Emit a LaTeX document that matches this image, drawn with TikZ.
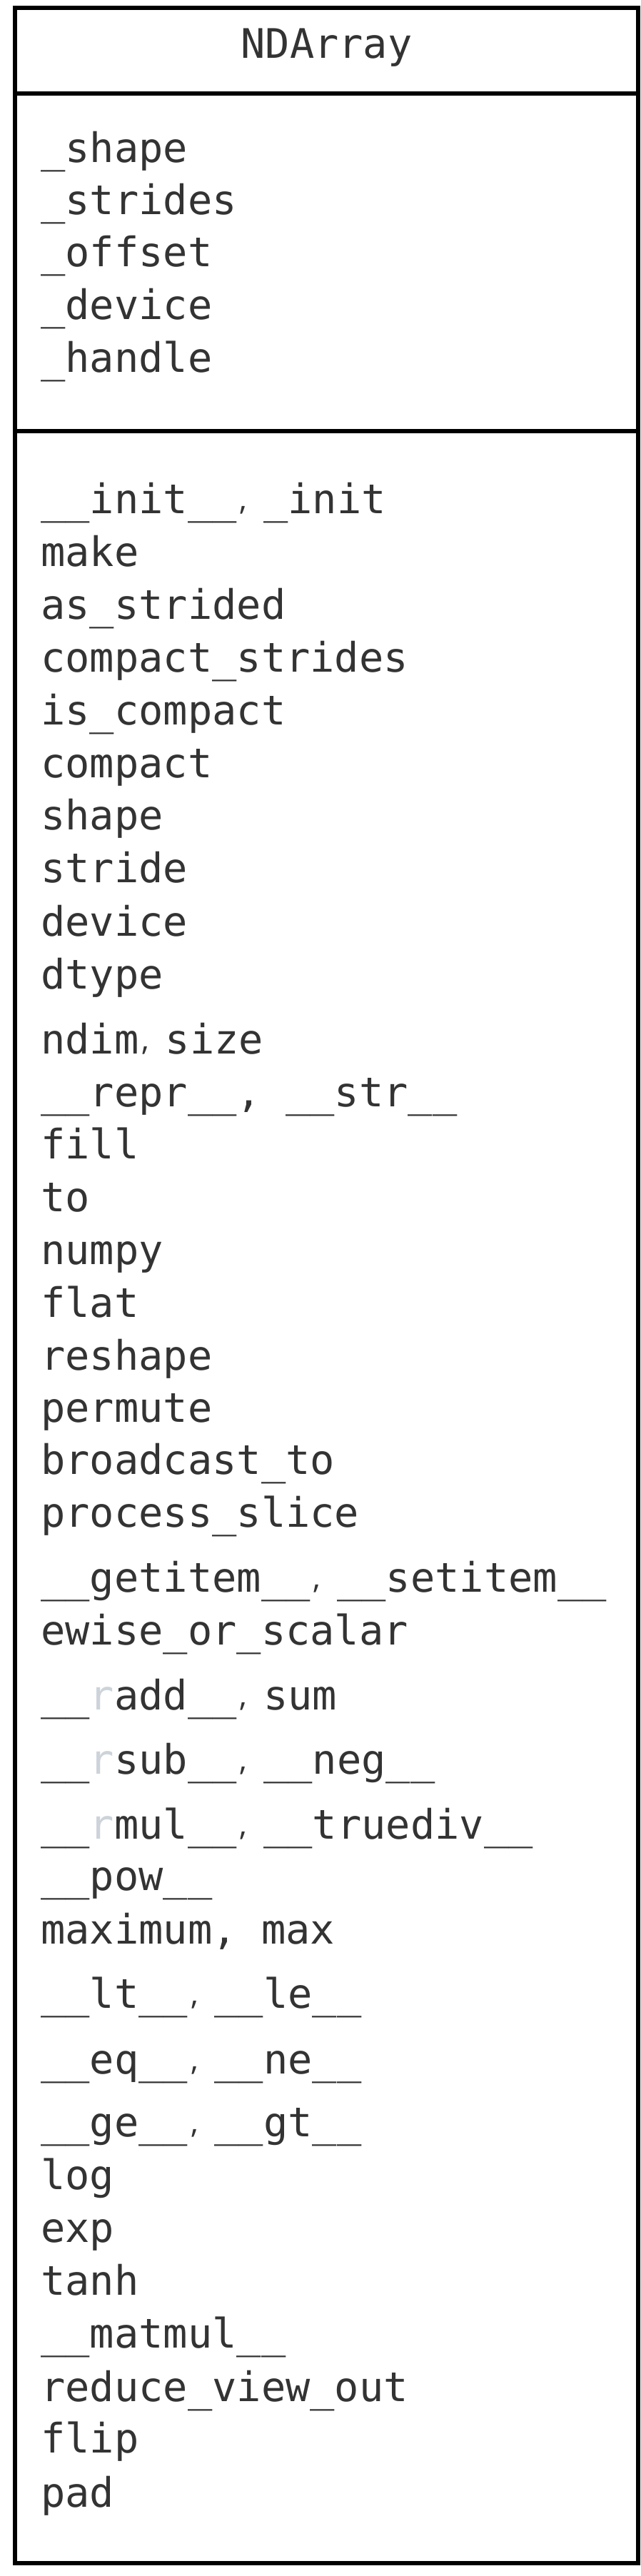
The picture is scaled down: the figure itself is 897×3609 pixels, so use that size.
\documentclass[tikz,border=0pt]{standalone}
\usepackage{fontspec}
\newfontfamily\codefont{DejaVu Sans Mono}
\newfontfamily\commafont{Open Sans}
\definecolor{txt}{HTML}{333333}
\definecolor{faint}{HTML}{CDD3DA}
\newcommand{\smallcomma}{\makebox[37.5pt][l]{\hspace{4pt}\raisebox{5pt}{\commafont\fontsize{44}{44}\selectfont,}}}
\newcommand{\fr}{\textcolor{faint}{r}}
\begin{document}
\begin{tikzpicture}[x=1pt,y=-1pt,
  frame/.style={draw=black, line width=5.5pt},
  lbl/.style={anchor=base west, inner sep=0pt, text=txt, font=\codefont\fontsize{57}{66}\selectfont},
  ttl/.style={anchor=base, inner sep=0pt, text=txt, font=\codefont\fontsize{57}{66}\selectfont}]
\useasboundingbox (0,0) rectangle (897,3609);
\fill[white] (0,0) rectangle (897,3609);
\draw[frame] (21,11) rectangle (894,3591);
\draw[frame] (21,131) -- (894,131);
\draw[frame] (21,604) -- (894,604);
\node[ttl] (title) at (457.5,81.5) {NDArray};
\foreach \y/\t [count=\i] in {
  227/{\_shape}, 300.5/{\_strides}, 373.5/{\_offset}, 447/{\_device}, 521/{\_handle}}
  {\node[lbl] (a\i) at (57,\y) {\t};}
\foreach \y/\t [count=\i] in {
  719.5/{\_\_init\_\_\smallcomma\_init},
  793/{make},
  867/{as\_strided},
  941/{compact\_strides},
  1015/{is\_compact},
  1089/{compact},
  1162/{shape},
  1236/{stride},
  1311/{device},
  1385/{dtype},
  1476/{ndim\smallcomma size},
  1550/{\_\_repr\_\_, \_\_str\_\_},
  1623/{fill},
  1697/{to},
  1771.5/{numpy},
  1845/{flat},
  1919/{reshape},
  1992/{permute},
  2065/{broadcast\_to},
  2139/{process\_slice},
  2230/{\_\_getitem\_\_\smallcomma\_\_setitem\_\_},
  2304/{ewise\_or\_scalar},
  2395/{\_\_\fr add\_\_\smallcomma sum},
  2485/{\_\_\fr sub\_\_\smallcomma\_\_neg\_\_},
  2576/{\_\_\fr mul\_\_\smallcomma\_\_truediv\_\_},
  2648/{\_\_pow\_\_},
  2723/{maximum, max},
  2813/{\_\_lt\_\_\smallcomma\_\_le\_\_},
  2905/{\_\_eq\_\_\smallcomma\_\_ne\_\_},
  2993/{\_\_ge\_\_\smallcomma\_\_gt\_\_},
  3067/{log},
  3141/{exp},
  3215/{tanh},
  3289/{\_\_matmul\_\_},
  3364/{reduce\_view\_out},
  3436/{flip},
  3512/{pad}}
  {\node[lbl] (m\i) at (57,\y) {\t};}
\end{tikzpicture}
\end{document}
